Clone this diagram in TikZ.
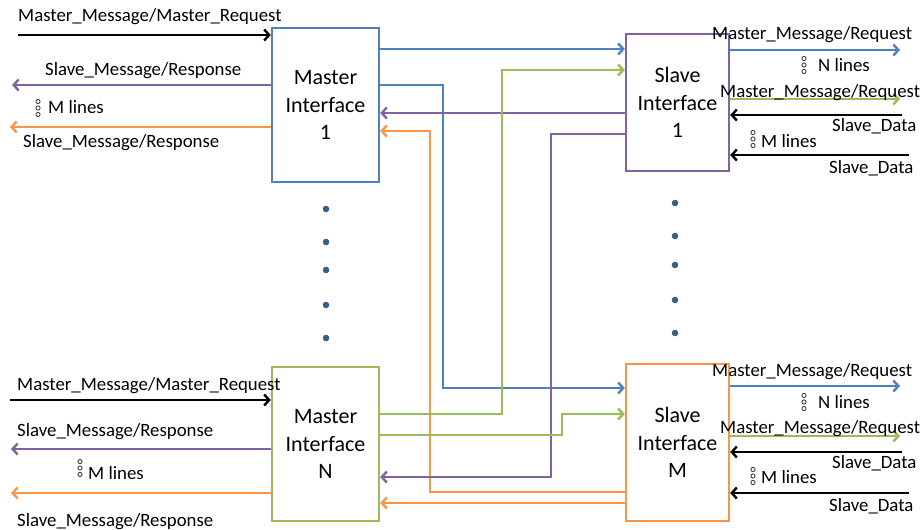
\documentclass[tikz,border=0pt]{standalone}
\usepackage{fontspec}
\setmainfont{Carlito}
\usetikzlibrary{arrows.meta}
\definecolor{ifblue}{HTML}{4F81BD}
\definecolor{ifpurple}{HTML}{8064A2}
\definecolor{ifgreen}{HTML}{9BBB59}
\definecolor{iforange}{HTML}{F79646}
\definecolor{dotblue}{HTML}{385D8A}
\begin{document}
\begin{tikzpicture}[x=1pt,y=-1pt,
  ifbox/.style={draw, line width=2.4pt, align=center, inner sep=0pt,
    font=\fontsize{22}{27.5}\selectfont},
  wire/.style={line width=2.4pt},
  arr/.style={wire, -{Straight Barb[length=5pt,width=11pt]}},
  blk/.style={arr, draw=black},
  bl/.style={arr, draw=ifblue},
  pu/.style={arr, draw=ifpurple},
  gr/.style={arr, draw=ifgreen},
  og/.style={arr, draw=iforange},
  lbl/.style={inner sep=0pt, anchor=base west, font=\fontsize{18.8}{22}\selectfont},
  dot/.style={fill=dotblue},
  vdots/.pic={\foreach \k in {-6.5,0,6.5} \draw[line width=0.9pt, draw=black!75] (0,\k) circle (2.1pt);}
]
\useasboundingbox (0,0) rectangle (921,530);

% interface blocks
\node[ifbox, draw=ifblue, minimum width=107pt, minimum height=154pt] (m1) at (325.5,105) {Master\\Interface\\1};
\node[ifbox, draw=ifgreen, minimum width=107pt, minimum height=154pt] (mn) at (325.5,444) {Master\\Interface\\N};
\node[ifbox, draw=ifpurple, minimum width=103pt, minimum height=137pt] (s1) at (677.5,102.5) {Slave\\Interface\\1};
\node[ifbox, draw=iforange, minimum width=103pt, minimum height=157pt] (sm) at (677.5,442.5) {Slave\\Interface\\M};

% free ends on the left
\coordinate (a1) at (18,35);
\coordinate (a2) at (12,85);
\coordinate (a3) at (10,127);
\coordinate (b1) at (10,400);
\coordinate (b2) at (11,449);
\coordinate (b3) at (11,493);
% free ends on the right
\coordinate (c1) at (900,50);
\coordinate (c2) at (900,99);
\coordinate (c3) at (902,115);
\coordinate (c4) at (909,155);
\coordinate (d1) at (900,386);
\coordinate (d2) at (900,436);
\coordinate (d3) at (902,452);
\coordinate (d4) at (909,493);

% master side ports
\draw[blk] (a1) -- (m1.west |- a1);
\draw[pu] (m1.west |- a2) -- (a2);
\draw[og] (m1.west |- a3) -- (a3);
\draw[blk] (b1) -- (mn.west |- b1);
\draw[pu] (mn.west |- b2) -- (b2);
\draw[og] (mn.west |- b3) -- (b3);

% slave side ports
\draw[bl] (s1.east |- c1) -- (c1);
\draw[gr] (s1.east |- c2) -- (c2);
\draw[blk] (c3) -- (s1.east |- c3);
\draw[blk] (c4) -- (s1.east |- c4);
\draw[bl] (sm.east |- d1) -- (d1);
\draw[gr] (sm.east |- d2) -- (d2);
\draw[blk] (d3) -- (sm.east |- d3);
\draw[blk] (d4) -- (sm.east |- d4);

% interconnect
\draw[bl] (m1.east |- 0,49) -- (s1.west |- 0,49);
\draw[bl] (m1.east |- 0,85) -| (443,388) -- (sm.west |- 0,388);
\draw[pu] (s1.west |- 0,113) -- (m1.east |- 0,113);
\draw[og] (sm.west |- 0,492) -| (430,131) -- (m1.east |- 0,131);
\draw[gr] (mn.east |- 0,414) -| (502,70) -- (s1.west |- 0,70);
\draw[pu] (s1.west |- 0,134) -| (551,477) -- (mn.east |- 0,477);
\draw[gr] (mn.east |- 0,435) -| (562,414) -- (sm.west |- 0,414);
\draw[og] (sm.west |- 0,503) -- (mn.east |- 0,503);

% ellipsis dots between blocks
\foreach \yy in {209,242,270,305,338} \fill[dot] (326,\yy) circle (3.3pt);
\foreach \yy in {203,236,265,300,333} \fill[dot] (675,\yy) circle (3.3pt);

% labels, master side
\node[lbl] (t1) at (18,21) {Master\_Message/Master\_Request};
\node[lbl] (t2) at (45,75) {Slave\_Message/Response};
\pic at (38,108) {vdots};
\node[lbl] (t3) at (48,113) {M lines};
\node[lbl] (t4) at (23,147) {Slave\_Message/Response};
\node[lbl] (t5) at (17,390) {Master\_Message/Master\_Request};
\node[lbl] (t6) at (17,436) {Slave\_Message/Response};
\pic at (80,468) {vdots};
\node[lbl] (t7) at (88,479) {M lines};
\node[lbl] (t8) at (17,526) {Slave\_Message/Response};

% labels, slave side
\node[lbl] (u1) at (712,39) {Master\_Message/Request};
\pic at (804,65) {vdots};
\node[lbl] (u2) at (818,71) {N lines};
\node[lbl] (u3) at (720,97) {Master\_Message/Request};
\node[lbl] (u4) at (832,131) {Slave\_Data};
\pic at (753,139) {vdots};
\node[lbl] (u5) at (761,147) {M lines};
\node[lbl] (u6) at (829,173) {Slave\_Data};
\node[lbl] (v1) at (712,376) {Master\_Message/Request};
\pic at (804,402) {vdots};
\node[lbl] (v2) at (818,408) {N lines};
\node[lbl] (v3) at (720,433) {Master\_Message/Request};
\node[lbl] (v4) at (832,468) {Slave\_Data};
\pic at (753,476) {vdots};
\node[lbl] (v5) at (761,483) {M lines};
\node[lbl] (v6) at (829,511) {Slave\_Data};
\end{tikzpicture}
\end{document}
